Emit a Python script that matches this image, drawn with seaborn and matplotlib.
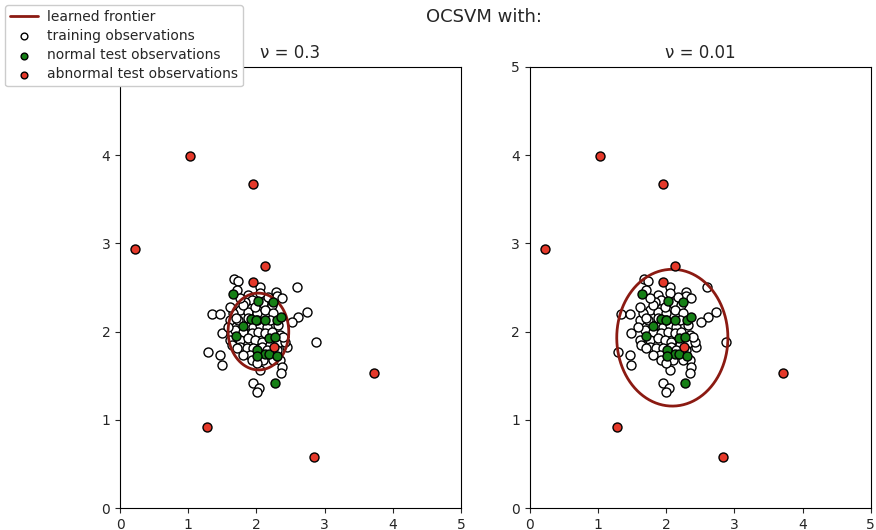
import numpy as np
import pandas as pd
import matplotlib
matplotlib.use("Agg")
import matplotlib.pyplot as plt
import seaborn as sns

# ---- data ----
train_x = [1.676, 1.735, 2.058, 2.600, 2.287, 2.297, 1.711, 1.882, 1.344, 1.466,
           2.737, 2.615, 2.517, 2.879, 1.491, 1.295, 1.466, 1.491, 2.444, 2.346,
           2.371, 2.356, 2.053, 1.955, 2.038, 2.004,
           1.931, 2.102, 1.833, 2.224, 1.760, 1.882, 2.004, 2.126, 2.248, 1.613,
           1.735, 1.857, 1.955, 2.053, 2.151, 2.322, 1.686, 1.808, 1.931, 2.028,
           2.126, 2.224, 2.346, 1.613, 1.760, 1.882, 1.980, 2.077, 1.760, 1.857,
           1.955, 2.077, 2.199, 2.322, 2.419, 1.906, 2.151, 1.808, 1.931, 2.102,
           2.248, 2.004, 1.637, 2.297, 1.711, 1.882, 2.004, 2.199, 1.662, 1.808,
           1.980, 2.175, 1.589, 2.395, 2.028, 1.760, 1.613, 2.370, 2.050, 1.700]
train_y = [2.593, 2.578, 2.510, 2.502, 2.445, 2.404, 2.472, 2.419, 2.196, 2.200,
           2.226, 2.162, 2.113, 1.879, 1.981, 1.773, 1.735, 1.622, 1.822, 1.678,
           1.603, 1.527, 1.565, 1.414, 1.365, 1.319,
           2.359, 2.321, 2.340, 2.302, 2.245, 2.226, 2.207, 2.245, 2.207, 2.132,
           2.132, 2.075, 2.056, 2.075, 2.056, 2.075, 2.018, 1.999, 1.981, 1.999,
           1.981, 1.999, 1.962, 1.905, 1.905, 1.924, 1.905, 1.886, 1.830, 1.811,
           1.811, 1.830, 1.848, 1.867, 1.886, 1.735, 1.792, 1.735, 1.678, 1.678,
           1.678, 1.640, 1.848, 1.792, 1.811, 2.151, 2.132, 2.132, 2.207, 2.302,
           2.283, 2.396, 2.056, 1.943, 1.773, 2.377, 2.283, 2.380, 2.440, 2.150]

normal_x = [1.65, 2.02, 2.25, 1.92, 1.99, 2.13, 2.30, 2.36, 1.80, 1.70,
            2.19, 2.28, 2.01, 2.13, 2.19, 2.01, 2.30, 2.28]
normal_y = [2.42, 2.35, 2.34, 2.14, 2.13, 2.13, 2.13, 2.17, 2.06, 1.95,
            1.93, 1.94, 1.79, 1.75, 1.75, 1.72, 1.72, 1.42]

abnormal_x = [1.03, 1.95, 0.22, 2.13, 3.72, 1.28, 2.84, 1.95, 2.26]
abnormal_y = [3.99, 3.67, 2.94, 2.74, 1.53, 0.92, 0.58, 2.56, 1.82]

nu_labels = ["0.3", "0.01"]
# learned frontier (ellipse): centre x, centre y, half-width, half-height, angle (deg)
front_cx = [2.03, 2.09]
front_cy = [2.00, 1.93]
front_a = [0.445, 0.815]
front_b = [0.435, 0.775]
front_ang = [-8.0, 0.0]

ticks = [0, 1, 2, 3, 4, 5]

# ---- plotting ----
sns.set_style("ticks")
plt.rcParams["font.family"] = ["DejaVu Sans"]

fig, axes = plt.subplots(1, 2, figsize=(8.76, 5.3), dpi=100)
fig.subplots_adjust(left=0.137, right=0.994, bottom=0.0415, top=0.874, wspace=0.202)

train = pd.DataFrame({"x": train_x, "y": train_y})
normal = pd.DataFrame({"x": normal_x, "y": normal_y})
abnormal = pd.DataFrame({"x": abnormal_x, "y": abnormal_y})

frontier_color = "#8b1a12"
green = "#168016"
red = "#e5392a"

handles = None
for i, ax in enumerate(axes):
    t = np.linspace(0, 2 * np.pi, 400)
    th = np.deg2rad(front_ang[i])
    ex = front_a[i] * np.cos(t)
    ey = front_b[i] * np.sin(t)
    px = front_cx[i] + ex * np.cos(th) - ey * np.sin(th)
    py = front_cy[i] + ex * np.sin(th) + ey * np.cos(th)
    line, = ax.plot(px, py, color=frontier_color, lw=2, label="learned frontier", zorder=3)

    sns.scatterplot(data=train, x="x", y="y", ax=ax, color="white", edgecolor="black",
                    s=42, linewidth=1, label="training observations", zorder=2)
    sns.scatterplot(data=normal, x="x", y="y", ax=ax, color=green, edgecolor="black",
                    s=42, linewidth=1, label="normal test observations", zorder=4)
    sns.scatterplot(data=abnormal, x="x", y="y", ax=ax, color=red, edgecolor="black",
                    s=42, linewidth=1, label="abnormal test observations", zorder=4)

    ax.set_xlim(0, 5)
    ax.set_ylim(0, 5)
    ax.set_xticks(ticks)
    ax.set_yticks(ticks)
    ax.set_xlabel("")
    ax.set_ylabel("")
    ax.tick_params(labelsize=10)
    ax.set_title("\u03bd = " + nu_labels[i], fontsize=12)
    if i == 0:
        handles, labels = ax.get_legend_handles_labels()
    ax.get_legend().remove()
    for sp in ax.spines.values():
        sp.set_linewidth(0.8)
        sp.set_color("black")

fig.suptitle("OCSVM with:", fontsize=13, x=0.553, y=0.985)
leg = fig.legend(handles, labels, loc="upper left", bbox_to_anchor=(0.0057, 0.991),
                 fontsize=10, markerscale=0.75, frameon=True, framealpha=1,
                 borderaxespad=0.0, labelspacing=0.38, borderpad=0.35,
                 handletextpad=0.7)
leg.get_frame().set_edgecolor("#cccccc")

fig.savefig("out.png", dpi=100)
